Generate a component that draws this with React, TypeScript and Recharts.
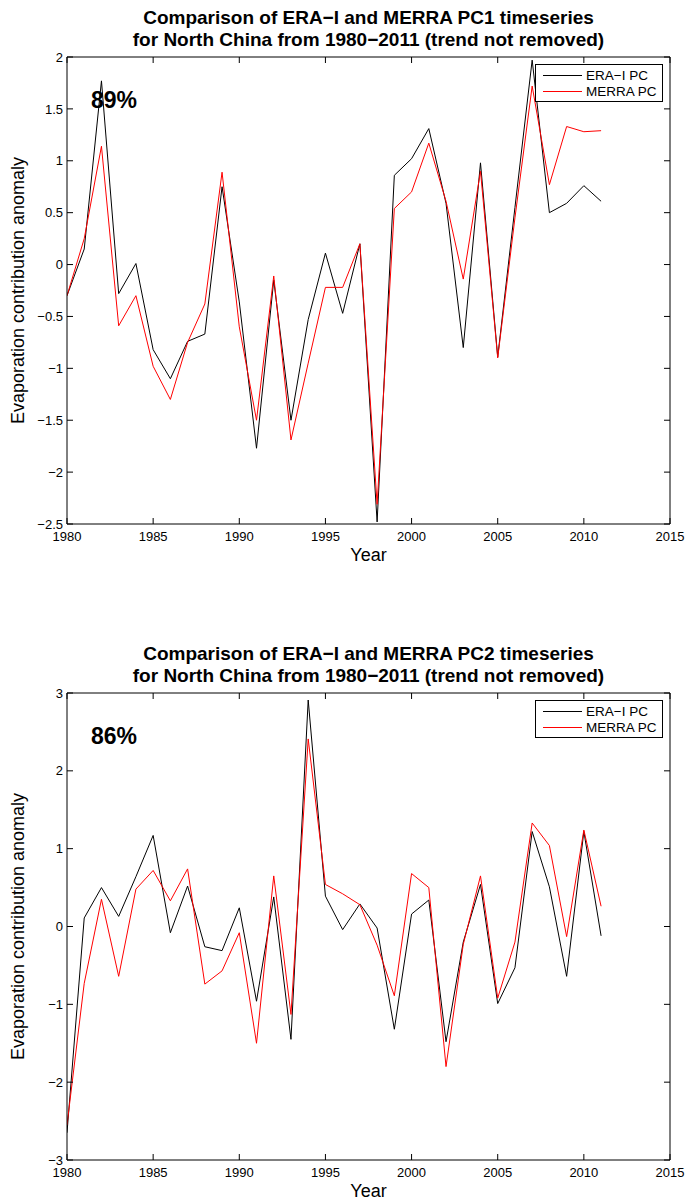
import { Label, Legend, Line, LineChart, XAxis, YAxis } from "recharts";

// years on the x axis
const YEARS = [
  1980, 1981, 1982, 1983, 1984, 1985, 1986, 1987, 1988, 1989, 1990, 1991,
  1992, 1993, 1994, 1995, 1996, 1997, 1998, 1999, 2000, 2001, 2002, 2003,
  2004, 2005, 2006, 2007, 2008, 2009, 2010, 2011,
];

// PC1
const PC1_ERA = [
  -0.3, 0.15, 1.77, -0.28, 0.01, -0.82, -1.1, -0.74, -0.67, 0.75, -0.36, -1.77,
  -0.15, -1.5, -0.53, 0.11, -0.47, 0.2, -2.48, 0.86, 1.02, 1.31, 0.59, -0.8,
  0.98, -0.89, 0.55, 1.97, 0.5, 0.59, 0.76, 0.61,
];
const PC1_MERRA = [
  -0.3, 0.25, 1.14, -0.59, -0.3, -0.98, -1.3, -0.75, -0.38, 0.89, -0.6, -1.5,
  -0.11, -1.69, -0.95, -0.22, -0.22, 0.2, -2.31, 0.54, 0.7, 1.17, 0.61, -0.14,
  0.9, -0.9, 0.45, 1.72, 0.77, 1.33, 1.28, 1.29,
];

// PC2 (bottom panel)
const PC2_ERA = [
  -2.65, 0.11, 0.5, 0.13, 0.64, 1.17, -0.08, 0.52, -0.26, -0.31, 0.24, -0.96,
  0.38, -1.45, 2.91, 0.39, -0.04, 0.29, -0.02, -1.32, 0.16, 0.34, -1.48, -0.2,
  0.54, -0.99, -0.53, 1.22, 0.51, -0.64, 1.22, -0.12,
];
const PC2_MERRA = [
  -2.55, -0.73, 0.35, -0.64, 0.48, 0.72, 0.33, 0.74, -0.74, -0.57, -0.08, -1.5,
  0.65, -1.13, 2.41, 0.54, 0.42, 0.28, -0.24, -0.89, 0.68, 0.5, -1.8, -0.23,
  0.65, -0.92, -0.2, 1.33, 1.04, -0.13, 1.24, 0.26,
];

const X_TICKS = [1980, 1985, 1990, 1995, 2000, 2005, 2010, 2015];
const PC1_TICKS = [-2.5, -2, -1.5, -1, -0.5, 0, 0.5, 1, 1.5, 2];
const PC2_TICKS = [-3, -2, -1, 0, 1, 2, 3];

const FONT = '"Liberation Sans", Arial, Helvetica, sans-serif';
const W = 687;
const H = 600;
const Y_AXIS_W = 50;
const X_AXIS_H = 40;
const MARGIN = { top: 57, right: 17, bottom: 36, left: 17 };

const fmtMinus = (v: number) => String(v).replace("-", "\u2212");
const tickStyle = { fill: "#000", fontSize: 13, fontFamily: FONT };
// tick marks only, no text (used by the mirrored axes that draw inward ticks)
const NoLabel = () => <g />;

function LegendBox({ payload }: any) {
  return (
    <div
      style={{
        boxSizing: "border-box",
        width: 128,
        height: 38,
        border: "1px solid #000",
        background: "#fff",
        fontFamily: FONT,
        fontSize: 13.5,
        paddingTop: 2,
      }}
    >
      {(payload || []).map((p: any) => (
        <div
          key={p.value}
          style={{ display: "flex", alignItems: "center", height: 16 }}
        >
          <span
            style={{
              display: "inline-block",
              width: 39,
              marginLeft: 7,
              marginRight: 4,
              borderTop: `1px solid ${p.color}`,
            }}
          />
          <span>{p.value}</span>
        </div>
      ))}
    </div>
  );
}

function Panel({
  top,
  title,
  era,
  merra,
  yTicks,
  share,
}: {
  top: number;
  title: [string, string];
  era: number[];
  merra: number[];
  yTicks: number[];
  share: string;
}) {
  const data = YEARS.map((year, i) => ({ year, era: era[i], merra: merra[i] }));
  const yDomain = [yTicks[0], yTicks[yTicks.length - 1]];
  const xDomain = [X_TICKS[0], X_TICKS[X_TICKS.length - 1]];

  return (
    <div style={{ position: "absolute", left: 0, top, width: W, height: H }}>
      <LineChart width={W} height={H} data={data} margin={MARGIN}>
        {/* bottom axis with labels */}
        <XAxis
          xAxisId="b"
          dataKey="year"
          type="number"
          domain={xDomain}
          allowDataOverflow
          ticks={X_TICKS}
          interval={0}
          height={X_AXIS_H}
          tickLine={false}
          tickSize={0}
          tickMargin={8}
          tick={tickStyle}
          axisLine={{ stroke: "#000" }}
        >
          <Label
            content={({ viewBox }: any) => (
              <text
                x={viewBox.x + viewBox.width / 2}
                y={viewBox.y + 37}
                textAnchor="middle"
                fontFamily={FONT}
                fontSize={18}
                fill="#000"
              >
                Year
              </text>
            )}
          />
        </XAxis>
        {/* inward ticks, bottom and top */}
        <XAxis
          xAxisId="bm"
          dataKey="year"
          type="number"
          domain={xDomain}
          allowDataOverflow
          ticks={X_TICKS}
          interval={0}
          mirror
          tick={NoLabel}
          tickSize={6}
          tickLine={{ stroke: "#000" }}
          axisLine={false}
        />
        <XAxis
          xAxisId="t"
          orientation="top"
          dataKey="year"
          type="number"
          domain={xDomain}
          allowDataOverflow
          ticks={X_TICKS}
          interval={0}
          mirror
          tick={NoLabel}
          tickSize={6}
          tickLine={{ stroke: "#000" }}
          axisLine={{ stroke: "#000" }}
        />
        {/* left axis with labels */}
        <YAxis
          yAxisId="l"
          type="number"
          domain={yDomain}
          allowDataOverflow
          ticks={yTicks}
          interval={0}
          width={Y_AXIS_W}
          tickLine={false}
          tickSize={0}
          tickMargin={4}
          tick={tickStyle}
          tickFormatter={fmtMinus}
          axisLine={{ stroke: "#000" }}
        >
          <Label
            content={({ viewBox }: any) => {
              const cx = viewBox.x + 7;
              const cy = viewBox.y + viewBox.height / 2;
              return (
                <text
                  x={cx}
                  y={cy}
                  transform={`rotate(-90 ${cx} ${cy})`}
                  textAnchor="middle"
                  fontFamily={FONT}
                  fontSize={18}
                  fill="#000"
                >
                  Evaporation contribution anomaly
                </text>
              );
            }}
          />
        </YAxis>
        <YAxis
          yAxisId="lm"
          type="number"
          domain={yDomain}
          allowDataOverflow
          ticks={yTicks}
          interval={0}
          mirror
          tick={NoLabel}
          tickSize={6}
          tickLine={{ stroke: "#000" }}
          axisLine={false}
        />
        <YAxis
          yAxisId="r"
          orientation="right"
          type="number"
          domain={yDomain}
          allowDataOverflow
          ticks={yTicks}
          interval={0}
          mirror
          tick={NoLabel}
          tickSize={6}
          tickLine={{ stroke: "#000" }}
          axisLine={{ stroke: "#000" }}
        />
        <Legend
          layout="vertical"
          align="center"
          verticalAlign="middle"
          content={LegendBox}
          wrapperStyle={{ top: 64, left: 535, width: 128, height: 38 }}
        />
        <Line
          xAxisId="b"
          yAxisId="l"
          name={"ERA\u2212I PC"}
          dataKey="era"
          type="linear"
          stroke="#000000"
          strokeWidth={1}
          dot={false}
          isAnimationActive={false}
        />
        <Line
          xAxisId="b"
          yAxisId="l"
          name="MERRA PC"
          dataKey="merra"
          type="linear"
          stroke="#ff0000"
          strokeWidth={1}
          dot={false}
          isAnimationActive={false}
        />
      </LineChart>
      <div
        style={{
          position: "absolute",
          left: 67,
          width: 603,
          top: 7,
          textAlign: "center",
          fontFamily: FONT,
          fontWeight: "bold",
          fontSize: 19,
          lineHeight: "22px",
          color: "#000",
          whiteSpace: "nowrap",
        }}
      >
        {title[0]}
        <br />
        {title[1]}
      </div>
      <div
        style={{
          position: "absolute",
          left: 91,
          top: 89,
          fontFamily: FONT,
          fontWeight: "bold",
          fontSize: 23,
          lineHeight: "23px",
          color: "#000",
        }}
      >
        {share}
      </div>
    </div>
  );
}

export default function App() {
  return (
    <div
      style={{
        position: "absolute",
        left: 0,
        top: 0,
        width: W,
        height: 1201,
        background: "#fff",
      }}
    >
      <Panel
        top={0}
        title={[
          "Comparison of ERA\u2212I and MERRA PC1 timeseries",
          "for North China from 1980\u22122011 (trend not removed)",
        ]}
        era={PC1_ERA}
        merra={PC1_MERRA}
        yTicks={PC1_TICKS}
        share="89%"
      />
      <Panel
        top={636}
        title={[
          "Comparison of ERA\u2212I and MERRA PC2 timeseries",
          "for North China from 1980\u22122011 (trend not removed)",
        ]}
        era={PC2_ERA}
        merra={PC2_MERRA}
        yTicks={PC2_TICKS}
        share="86%"
      />
    </div>
  );
}
